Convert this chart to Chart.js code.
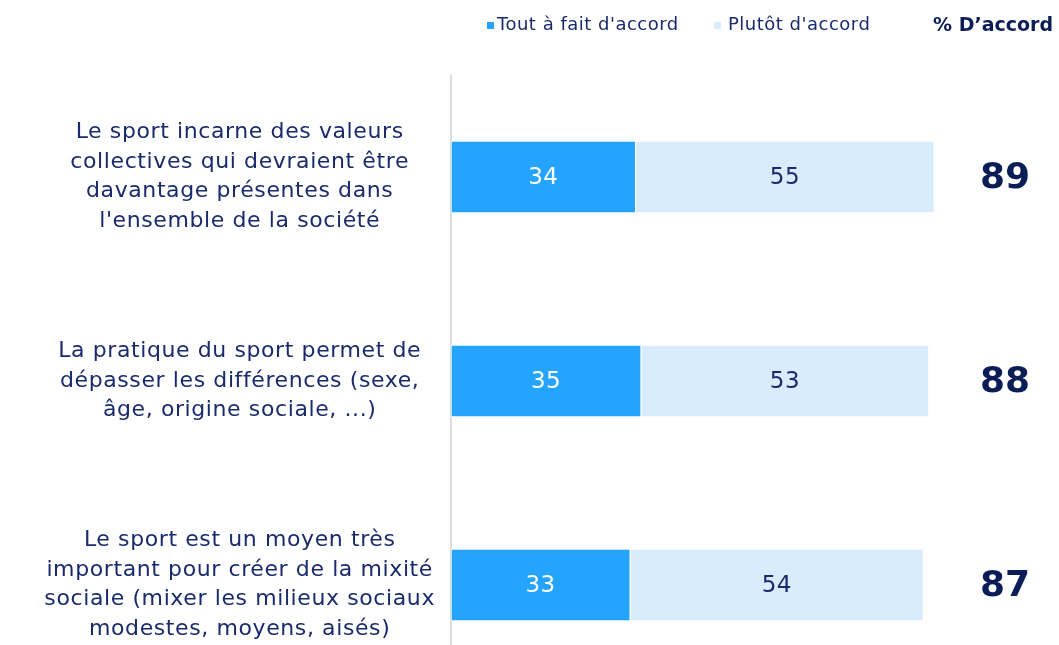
<html>
<head>
    <title>Sport et société</title>
    <script src="https://cdn.jsdelivr.net/npm/chart.js"></script>
    <style>
        body { margin: 0; background: #fff; overflow: hidden; }
        #wrap { position: absolute; left: 0; top: 0; width: 1059px; height: 700px; }
    </style>
</head>
<body>
    <div id="wrap"><canvas id="barChart"></canvas></div>
    <script>
        const categories = [
            ['Le sport incarne des valeurs', 'collectives qui devraient être', 'davantage présentes dans', "l'ensemble de la société"],
            ['La pratique du sport permet de', 'dépasser les différences (sexe,', 'âge, origine sociale, ...)'],
            ['Le sport est un moyen très', 'important pour créer de la mixité', 'sociale (mixer les milieux sociaux', 'modestes, moyens, aisés)']
        ];
        const toutAFait = [34, 35, 33];
        const plutot = [55, 53, 54];
        const totals = [89, 88, 87];
        const seriesNames = ["Tout à fait d'accord", "Plutôt d'accord"];
        const totalTitle = "% D’accord";

        const navy = '#1a2b6d';
        const fontFamily = '"DejaVu Sans", sans-serif';

        // police plus large : un peu d'espacement entre les lettres
        const spacing = {
            id: 'spacing',
            beforeLayout(chart) { chart.ctx.letterSpacing = '0.6px'; },
            beforeDraw(chart) { chart.ctx.letterSpacing = '0.6px'; }
        };

        // valeurs dans les barres, totaux à droite, légende en haut
        const extras = {
            id: 'extras',
            afterDatasetsDraw(chart) {
                const ctx = chart.ctx;
                ctx.save();
                ctx.textBaseline = 'middle';
                ctx.textAlign = 'center';
                ctx.letterSpacing = '0.5px';
                ctx.font = '23px ' + fontFamily;
                chart.data.datasets.forEach((ds, i) => {
                    chart.getDatasetMeta(i).data.forEach((bar, j) => {
                        ctx.fillStyle = i === 0 ? '#ffffff' : navy;
                        ctx.fillText(ds.data[j], (bar.x + bar.base) / 2, bar.y + 1);
                    });
                });
                ctx.letterSpacing = '0px';
                ctx.font = 'bold 36px ' + fontFamily;
                ctx.fillStyle = '#0b1d57';
                const meta = chart.getDatasetMeta(1);
                totals.forEach((t, j) => {
                    ctx.fillText(t, 1005, meta.data[j].y + 2);
                });

                // légende
                ctx.textAlign = 'left';
                ctx.letterSpacing = '0.5px';
                ctx.font = '18px ' + fontFamily;
                const markX = [487, 714];
                const textX = [497, 728];
                chart.data.datasets.forEach((ds, i) => {
                    ctx.fillStyle = ds.backgroundColor;
                    ctx.fillRect(markX[i], 22, 7, 7);
                    ctx.fillStyle = navy;
                    ctx.fillText(ds.label, textX[i], 25);
                });
                ctx.letterSpacing = '0px';
                ctx.font = 'bold 19px ' + fontFamily;
                ctx.fillStyle = '#0b1d57';
                ctx.fillText(totalTitle, 933, 26);
                ctx.restore();
            }
        };

        new Chart(document.getElementById('barChart'), {
            type: 'bar',
            data: {
                labels: categories,
                datasets: [{
                    label: seriesNames[0],
                    data: toutAFait,
                    backgroundColor: '#25a4ff',
                    borderColor: '#ffffff',
                    borderWidth: 1,
                    borderSkipped: false,
                    barThickness: 72
                }, {
                    label: seriesNames[1],
                    data: plutot,
                    backgroundColor: '#d9ecfd',
                    borderColor: '#ffffff',
                    borderWidth: 1,
                    borderSkipped: false,
                    barThickness: 72
                }]
            },
            options: {
                indexAxis: 'y',
                responsive: true,
                maintainAspectRatio: false,
                animation: false,
                layout: { padding: { top: 75, bottom: 13, right: 65, left: 0 } },
                plugins: {
                    legend: { display: false },
                    tooltip: { enabled: false }
                },
                scales: {
                    x: {
                        stacked: true,
                        min: 0,
                        max: 100,
                        display: false
                    },
                    y: {
                        stacked: true,
                        afterFit: s => {
                            s.width = 451;
                            s.paddingTop = 0;
                            s.paddingBottom = 0;
                        },
                        grid: { display: false, drawTicks: false },
                        border: { display: true, color: '#dedede', width: 2 },
                        ticks: {
                            crossAlign: 'center',
                            padding: 16,
                            color: navy,
                            font: { family: fontFamily, size: 22, lineHeight: '29.5px' }
                        }
                    }
                }
            },
            plugins: [spacing, extras]
        });
    </script>
</body>
</html>
